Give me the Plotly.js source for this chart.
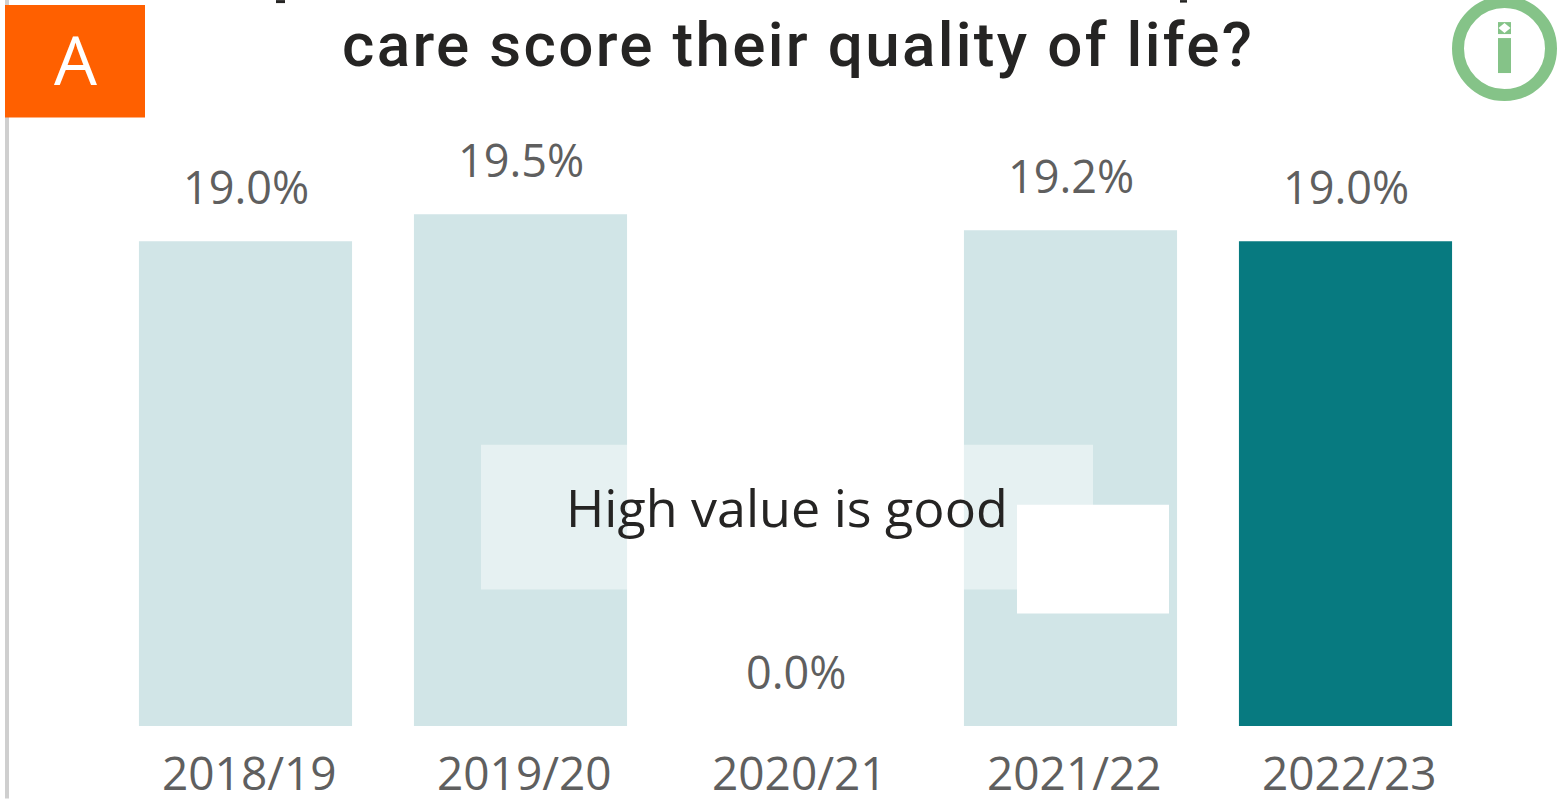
<!DOCTYPE html>
<html><head><meta charset="utf-8">
<script src="https://cdn.plot.ly/plotly-3.0.1.min.js"></script>
<style>html,body{margin:0;padding:0;background:#fff;overflow:hidden}#c{width:1563px;height:799px}</style>
</head><body><div id="c"></div>
<script>
const categories = ["2018/19","2019/20","2020/21","2021/22","2022/23"];
const values = [19.0,19.5,0.0,19.2,19.0];
const barColors = ["#d1e5e7","#d1e5e7","#d1e5e7","#d1e5e7","#077a80"];
const labelFont = "'Open Sans', 'Noto Sans', sans-serif";
const titleFont = "Roboto, 'Noto Sans', sans-serif";
const axisMin = 10, axisMax = 21.23;
const W = 1563, H = 799;
const M = {l:108,r:80,t:121,b:72.5};
const PW = W-M.l-M.r, PH = H-M.t-M.b;
const px = x => (x-M.l)/PW, py = y => 1-(y-M.t)/PH;

const rect = (x0,y0,x1,y1,fill,op) => ({type:'rect',xref:'paper',yref:'paper',x0:px(x0),x1:px(x1),y0:py(y1),y1:py(y0),fillcolor:fill,opacity:op===undefined?1:op,line:{width:0},layer:'above'});
const shapes = [
  rect(5,0,9,799,'#cfcfcf'),
  rect(5,5,145,117.5,'#ff6000'),
  rect(276,0,285,3,'#252423'),
  rect(1180,0,1187,2.5,'#252423'),
  rect(481,445,1093,590,'#ffffff',0.45),
  rect(1017,505,1169,614,'#ffffff'),
  {type:'circle',xref:'paper',yref:'paper',x0:px(1458),x1:px(1551),y0:py(95),y1:py(2),fillcolor:'rgba(0,0,0,0)',line:{color:'#85c388',width:12},layer:'above'},
  rect(1498,38,1511,73,'#85c388'),
  rect(1498,22,1511,34,'#85c388'),
  {type:'path',xref:'paper',yref:'paper',path:`M ${px(1504.5)} ${py(23)} L ${px(1510.5)} ${py(28)} L ${px(1504.5)} ${py(33)} L ${px(1498.5)} ${py(28)} Z`,fillcolor:'#ffffff',line:{width:0},layer:'above'}
];

const txt = (x,y,t,size,color,family,extra) => Object.assign({xref:'paper',yref:'paper',x:px(x),y:py(y),text:t,showarrow:false,xanchor:'center',yanchor:'middle',font:{size:size,color:color,family:family}},extra||{});
const annotations = [
  txt(75,58,'A',68,'#ffffff',labelFont,{font:{size:68,color:'#ffffff',family:labelFont,weight:500}}),
  txt(798,44,'care score their quality of life?',62,'#252423',titleFont,{font:{size:62,color:'#252423',family:titleFont,weight:500}}),
  txt(787,507,'High value is good',52,'#252423',labelFont)
];
values.forEach((v,i)=>annotations.push({
  xref:'x',yref:'y',x:categories[i],y:Math.max(v,axisMin),text:v.toFixed(1)+'%',showarrow:false,
  yanchor:'bottom',yshift:22,font:{size:45,color:'#5f5f5f',family:labelFont}
}));

Plotly.newPlot('c',[{
  type:'bar',x:categories,y:values,marker:{color:barColors,line:{width:0}},hoverinfo:'x+y',cliponaxis:true
}],{
  width:W,height:H,showlegend:false,paper_bgcolor:'#fff',plot_bgcolor:'#fff',
  margin:{l:M.l,r:M.r,t:M.t,b:M.b,pad:0},bargap:0.225,
  xaxis:{type:'category',categoryorder:'array',categoryarray:categories,showgrid:false,zeroline:false,showline:false,ticks:'',ticklen:0,
    tickmode:'array',tickvals:categories,ticktext:categories.map(c=>'\u2009'+c),ticklabelstandoff:17,
    tickfont:{size:46,color:'#5f5f5f',family:labelFont},automargin:false},
  yaxis:{range:[axisMin,axisMax],visible:false,showgrid:false,zeroline:false},
  shapes:shapes,annotations:annotations
},{displayModeBar:false,staticPlot:true}).then(()=>{
  document.querySelectorAll('.annotation-text').forEach(t=>{
    if(t.textContent.indexOf('care score')===0) t.style.letterSpacing='2.3px';
  });
});
</script></body></html>
